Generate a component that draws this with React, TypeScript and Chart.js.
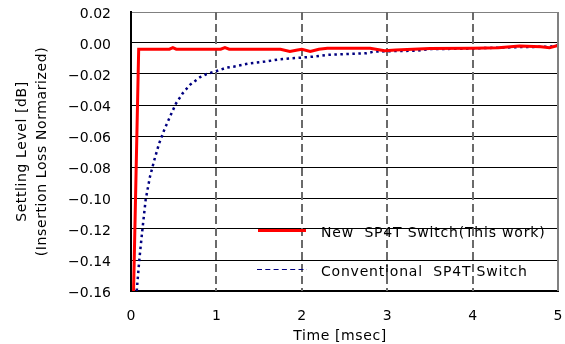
import React, { useEffect, useRef } from "react";
import { Chart, registerables } from "chart.js";

Chart.register(...registerables);

// ---- data ----
const timeNew = [0.03, 0.09, 0.45, 0.49, 0.53, 1.05, 1.1, 1.15, 1.75, 1.86, 1.95, 2.0, 2.1, 2.2, 2.3, 2.8, 2.97, 3.1, 3.3, 3.5, 4.0, 4.3, 4.55, 4.8, 4.9, 5.0];
const levelNew = [-0.16, -0.004, -0.004, -0.003, -0.004, -0.004, -0.003, -0.004, -0.004, -0.0055, -0.0045, -0.004, -0.0055, -0.004, -0.0034, -0.0034, -0.005, -0.0045, -0.004, -0.0035, -0.0034, -0.003, -0.002, -0.0024, -0.003, -0.0015];

const timeConv = [0.067, 0.097, 0.137, 0.172, 0.222, 0.273, 0.33, 0.39, 0.457, 0.527, 0.605, 0.69, 0.81, 0.886, 0.98, 1.04, 1.11, 1.2, 1.39, 1.57, 1.74, 1.98, 2.13, 2.29, 2.53, 2.76, 2.84, 3.1, 3.35, 3.5, 3.9, 4.3, 4.6, 4.9, 5.0];
const levelConv = [-0.16, -0.14, -0.1185, -0.101, -0.0863, -0.0755, -0.0647, -0.056, -0.0475, -0.039, -0.0325, -0.027, -0.022, -0.02, -0.0185, -0.0174, -0.016, -0.0153, -0.0131, -0.012, -0.0105, -0.0095, -0.0088, -0.0077, -0.0071, -0.0066, -0.0056, -0.0052, -0.005, -0.0039, -0.0037, -0.003, -0.0026, -0.0024, -0.0015];

const xMin = 0;
const xMax = 5;
const xStep = 1;
const yMin = -0.16;
const yMax = 0.02;
const yStep = 0.02;

const seriesLabels = ["New  SP4T Switch(This work)", "Conventional  SP4T Switch"];
const xTitle = "Time [msec]";
const yTitleLines = ["Settling Level [dB]", "(Insertion Loss Normarized)"];

const FONT = "DejaVu Sans";

function fmtY(v: number): string {
  if (Math.abs(v) < 1e-9) return "0.00";
  const s = Math.abs(v).toFixed(2);
  return v < 0 ? "\u2212" + s : s;
}

const overlayPlugin = {
  id: "overlay",
  beforeDatasetsDraw(chart: any) {
    const ctx = chart.ctx as CanvasRenderingContext2D;
    const a = chart.chartArea;
    const xs = chart.scales.x;
    ctx.save();
    ctx.strokeStyle = "#6a6a6a";
    ctx.lineWidth = 2;
    ctx.setLineDash([8, 4]);
    for (let v = xMin + xStep; v < xMax - 1e-9; v += xStep) {
      const px = Math.round(xs.getPixelForValue(v));
      ctx.beginPath();
      ctx.moveTo(px, a.top);
      ctx.lineTo(px, a.bottom);
      ctx.stroke();
    }
    ctx.restore();
  },
  afterDraw(chart: any) {
    const ctx = chart.ctx as CanvasRenderingContext2D;
    const a = chart.chartArea;
    ctx.save();
    // right border
    ctx.strokeStyle = "#808080";
    ctx.lineWidth = 2;
    ctx.beginPath();
    ctx.moveTo(a.right, a.top);
    ctx.lineTo(a.right, a.bottom);
    ctx.stroke();

    // legend
    ctx.fillStyle = "#000";
    ctx.font = `14px "${FONT}"`;
    (ctx as any).letterSpacing = "0.8px";
    ctx.textBaseline = "middle";
    ctx.textAlign = "left";
    ctx.strokeStyle = "#ff0000";
    ctx.lineWidth = 3;
    ctx.setLineDash([]);
    ctx.beginPath();
    ctx.moveTo(258, 230.5);
    ctx.lineTo(306, 230.5);
    ctx.stroke();
    ctx.fillText(seriesLabels[0], 321, 233);
    ctx.strokeStyle = "#000080";
    ctx.lineWidth = 1;
    ctx.setLineDash([5, 3.3]);
    ctx.beginPath();
    ctx.moveTo(257, 269.5);
    ctx.lineTo(307, 269.5);
    ctx.stroke();
    ctx.setLineDash([]);
    ctx.fillText(seriesLabels[1], 321, 272);

    // x title
    (ctx as any).letterSpacing = "0.6px";
    ctx.textAlign = "center";
    ctx.fillText(xTitle, 340, 336);

    // y title
    const cy = (a.top + a.bottom) / 2;
    ctx.translate(0, cy);
    ctx.rotate(-Math.PI / 2);
    ctx.fillText(yTitleLines[0], 0, 22);
    ctx.fillText(yTitleLines[1], 0, 42);
    ctx.restore();
  },
};

export default function App() {
  const ref = useRef<HTMLCanvasElement | null>(null);

  useEffect(() => {
    document.body.style.margin = "0";
    const canvas = ref.current;
    if (!canvas) return;
    const chart = new Chart(canvas, {
      type: "line",
      data: {
        datasets: [
          {
            label: seriesLabels[0],
            data: timeNew.map((t, i) => ({ x: t, y: levelNew[i] })),
            borderColor: "#ff0000",
            borderWidth: 3,
            pointRadius: 0,
            tension: 0,
            fill: false,
          },
          {
            label: seriesLabels[1],
            data: timeConv.map((t, i) => ({ x: t, y: levelConv[i] })),
            borderColor: "#000080",
            borderWidth: 2.5,
            borderDash: [2.5, 3.5],
            borderCapStyle: "butt",
            pointRadius: 0,
            tension: 0,
            fill: false,
          },
        ],
      },
      options: {
        animation: false,
        responsive: true,
        maintainAspectRatio: false,
        layout: { padding: { top: 12, right: 7, left: 0, bottom: 0 } },
        plugins: {
          legend: { display: false },
          tooltip: { enabled: false },
        },
        scales: {
          x: {
            type: "linear",
            min: xMin,
            max: xMax,
            ticks: {
              stepSize: xStep,
              padding: 17,
              color: "#000",
              font: { family: FONT, size: 14 },
              maxRotation: 0,
              callback: (v: any) => String(v),
            },
            grid: { display: false, drawTicks: false },
            border: { display: true, color: "#000", width: 2 },
            afterFit: (s: any) => {
              s.height = 53;
              s.paddingLeft = 0;
              s.paddingRight = 0;
            },
          },
          y: {
            type: "linear",
            min: yMin,
            max: yMax,
            ticks: {
              stepSize: yStep,
              padding: 20,
              labelOffset: 2,
              color: "#000",
              font: { family: FONT, size: 14 },
              callback: (v: any) => fmtY(Number(v)),
            },
            grid: {
              drawTicks: false,
              color: (c: any) => (c.tick && Math.abs(c.tick.value - yMax) < 1e-9 ? "#808080" : "#000"),
              lineWidth: 1,
            },
            border: { display: true, color: "#000", width: 2 },
            afterFit: (s: any) => {
              s.width = 131;
              s.paddingTop = 0;
              s.paddingBottom = 0;
            },
          },
        },
      },
      plugins: [overlayPlugin],
    } as any);
    return () => chart.destroy();
  }, []);

  return (
    <div style={{ position: "relative", width: 565, height: 344, background: "#fff" }}>
      <canvas ref={ref} />
    </div>
  );
}
